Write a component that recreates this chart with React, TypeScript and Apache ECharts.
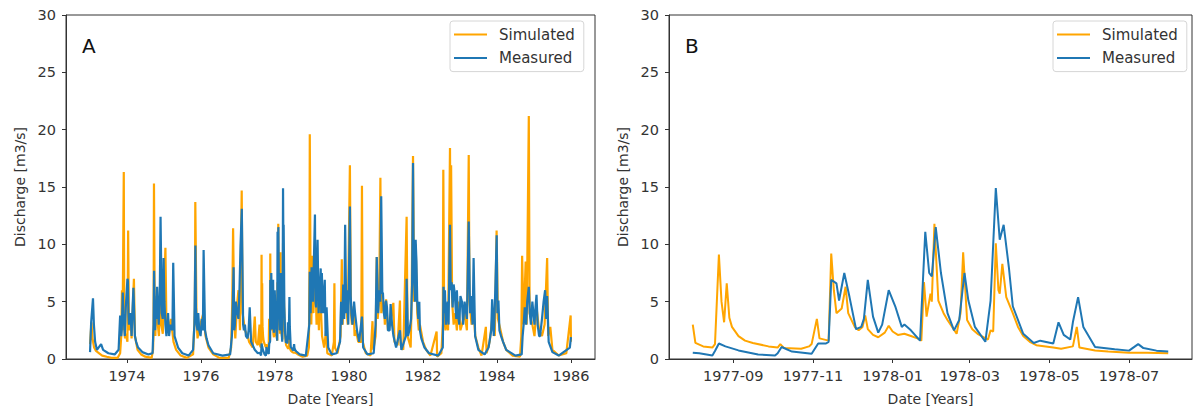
import React, { useEffect, useRef } from "react";
import * as echarts from "echarts";

// ---------- Data (date, discharge m3/s) ----------
// Panel B: detailed hydrograph Aug 1977 - Jul 1978
const simB: [string, number][] = [
  ["1977-08-01", 3.0], ["1977-08-03", 1.4], ["1977-08-09", 1.1], ["1977-08-16", 1.0], ["1977-08-18", 1.3],
  ["1977-08-21", 9.1], ["1977-08-23", 5.0], ["1977-08-25", 3.2], ["1977-08-27", 6.6], ["1977-08-29", 3.6],
  ["1977-08-31", 2.8], ["1977-09-05", 2.0], ["1977-09-10", 1.6], ["1977-09-16", 1.4], ["1977-09-28", 1.1],
  ["1977-10-05", 1.0], ["1977-10-07", 1.3], ["1977-10-10", 0.95], ["1977-10-23", 0.9], ["1977-10-29", 1.1],
  ["1977-10-31", 1.3], ["1977-11-04", 3.5], ["1977-11-06", 1.8], ["1977-11-13", 1.6], ["1977-11-15", 9.2],
  ["1977-11-17", 6.0], ["1977-11-19", 4.0], ["1977-11-23", 4.4], ["1977-11-26", 6.3], ["1977-11-28", 4.0],
  ["1977-12-03", 2.8], ["1977-12-06", 2.5], ["1977-12-09", 2.8], ["1977-12-11", 3.8], ["1977-12-13", 2.6],
  ["1977-12-17", 2.1], ["1977-12-21", 1.9], ["1977-12-26", 2.3], ["1977-12-29", 2.9], ["1978-01-01", 2.4],
  ["1978-01-05", 2.1], ["1978-01-10", 2.2], ["1978-01-15", 2.0], ["1978-01-20", 1.8], ["1978-01-23", 1.6],
  ["1978-01-25", 6.7], ["1978-01-27", 3.7], ["1978-01-30", 5.7], ["1978-01-31", 5.0], ["1978-02-02", 11.8],
  ["1978-02-05", 5.1], ["1978-02-09", 4.0], ["1978-02-12", 3.4], ["1978-02-19", 2.2], ["1978-02-22", 4.0],
  ["1978-02-24", 9.3], ["1978-02-27", 3.4], ["1978-03-03", 2.6], ["1978-03-07", 2.2], ["1978-03-15", 1.7],
  ["1978-03-17", 2.5], ["1978-03-19", 2.4], ["1978-03-21", 10.1], ["1978-03-23", 6.0], ["1978-03-24", 5.7],
  ["1978-03-26", 8.3], ["1978-03-29", 5.4], ["1978-04-03", 4.0], ["1978-04-07", 2.8], ["1978-04-11", 2.0],
  ["1978-04-16", 1.5], ["1978-04-21", 1.2], ["1978-05-04", 1.0], ["1978-05-10", 0.9], ["1978-05-19", 1.1],
  ["1978-05-22", 2.8], ["1978-05-24", 1.0], ["1978-06-05", 0.75], ["1978-06-15", 0.65], ["1978-07-01", 0.55],
  ["1978-07-15", 0.55], ["1978-07-31", 0.5],
];
const measB: [string, number][] = [
  ["1977-08-01", 0.55], ["1977-08-06", 0.5], ["1977-08-16", 0.3], ["1977-08-18", 0.7], ["1977-08-21", 1.35],
  ["1977-08-26", 1.1], ["1977-09-05", 0.75], ["1977-09-20", 0.4], ["1977-10-03", 0.3], ["1977-10-05", 0.5],
  ["1977-10-08", 1.05], ["1977-10-16", 0.65], ["1977-10-31", 0.45], ["1977-11-05", 1.35], ["1977-11-11", 1.35],
  ["1977-11-13", 1.5], ["1977-11-15", 6.9], ["1977-11-19", 6.6], ["1977-11-21", 5.1], ["1977-11-25", 7.5],
  ["1977-11-29", 5.4], ["1977-12-04", 2.6], ["1977-12-08", 2.8], ["1977-12-10", 3.5], ["1977-12-13", 6.9],
  ["1977-12-17", 3.7], ["1977-12-21", 2.3], ["1977-12-24", 3.0], ["1977-12-29", 6.0], ["1978-01-03", 4.6],
  ["1978-01-08", 2.8], ["1978-01-10", 3.0], ["1978-01-15", 2.5], ["1978-01-22", 1.6], ["1978-01-26", 11.1],
  ["1978-01-29", 7.5], ["1978-01-31", 7.2], ["1978-02-03", 11.5], ["1978-02-07", 7.5], ["1978-02-12", 4.0],
  ["1978-02-17", 2.5], ["1978-02-21", 3.4], ["1978-02-25", 7.5], ["1978-02-28", 5.1], ["1978-03-05", 2.8],
  ["1978-03-13", 1.5], ["1978-03-17", 5.1], ["1978-03-21", 14.9], ["1978-03-24", 10.4], ["1978-03-27", 11.7],
  ["1978-03-31", 8.0], ["1978-04-03", 4.6], ["1978-04-11", 2.2], ["1978-04-19", 1.4], ["1978-04-24", 1.6],
  ["1978-05-04", 1.35], ["1978-05-08", 3.2], ["1978-05-12", 2.1], ["1978-05-17", 1.7], ["1978-05-19", 3.2],
  ["1978-05-23", 5.4], ["1978-05-27", 2.8], ["1978-06-05", 1.05], ["1978-06-20", 0.85], ["1978-07-01", 0.73],
  ["1978-07-08", 1.3], ["1978-07-12", 0.95], ["1978-07-22", 0.73], ["1978-07-31", 0.65],
];

// Panel A: full record 1973-1985 (before / after the panel-B window)
const simAPre: [string, number][] = [
  ["1973-01-01", 1.3], ["1973-01-15", 3.2], ["1973-01-25", 1.8], ["1973-02-10", 1.0], ["1973-03-01", 0.7],
  ["1973-04-01", 0.5], ["1973-05-01", 0.3], ["1973-06-15", 0.2], ["1973-08-01", 0.1], ["1973-10-01", 0.1],
  ["1973-10-25", 0.5], ["1973-11-05", 2.0], ["1973-11-12", 6.0], ["1973-11-18", 2.5], ["1973-11-30", 16.3],
  ["1973-12-05", 3.0], ["1973-12-12", 1.8], ["1973-12-20", 2.2], ["1974-01-05", 1.5], ["1974-01-12", 11.2],
  ["1974-01-20", 2.5], ["1974-02-05", 3.5], ["1974-02-15", 1.8], ["1974-03-10", 7.0], ["1974-03-20", 2.0],
  ["1974-04-15", 0.8], ["1974-05-20", 0.4], ["1974-07-01", 0.2], ["1974-09-01", 0.1], ["1974-09-15", 0.8],
  ["1974-09-20", 2.5], ["1974-09-24", 15.3], ["1974-10-01", 4.0], ["1974-10-08", 2.0], ["1974-10-15", 5.5],
  ["1974-11-01", 3.0], ["1974-11-12", 2.0], ["1974-11-25", 7.0], ["1974-12-05", 3.0], ["1974-12-20", 2.2],
  ["1975-01-15", 9.7], ["1975-01-25", 3.0], ["1975-02-15", 2.5], ["1975-03-10", 3.5], ["1975-04-05", 1.5],
  ["1975-05-01", 0.8], ["1975-06-15", 0.3], ["1975-08-15", 0.1], ["1975-10-15", 0.4], ["1975-10-25", 2.5],
  ["1975-11-02", 4.4], ["1975-11-06", 13.7], ["1975-11-18", 3.5], ["1975-11-28", 1.8], ["1975-12-10", 2.5],
  ["1976-01-25", 4.0], ["1976-02-15", 2.0], ["1976-03-15", 1.0], ["1976-05-01", 0.4], ["1976-07-01", 0.1],
  ["1976-10-01", 0.1], ["1976-10-25", 1.0], ["1976-11-05", 5.0], ["1976-11-13", 11.4], ["1976-11-25", 3.0],
  ["1976-12-05", 1.8], ["1976-12-20", 4.5], ["1977-01-05", 6.0], ["1977-01-20", 2.5], ["1977-02-06", 14.7],
  ["1977-02-15", 4.0], ["1977-03-10", 2.5], ["1977-04-05", 2.0], ["1977-04-20", 1.5], ["1977-05-25", 1.0],
  ["1977-06-15", 3.7], ["1977-06-25", 1.5], ["1977-07-15", 1.2],
];
const simAPost: [string, number][] = [
  ["1978-08-15", 0.4], ["1978-10-01", 0.2], ["1978-11-15", 0.3], ["1978-12-01", 1.0], ["1978-12-07", 7.5],
  ["1978-12-10", 19.6], ["1978-12-18", 6.0], ["1978-12-25", 3.0], ["1979-01-05", 9.0], ["1979-01-15", 4.0],
  ["1979-02-01", 8.0], ["1979-02-15", 3.0], ["1979-03-01", 5.0], ["1979-03-10", 2.5], ["1979-03-20", 6.5],
  ["1979-04-10", 2.0], ["1979-05-01", 1.0], ["1979-05-20", 2.5], ["1979-06-01", 0.5], ["1979-07-15", 0.3],
  ["1979-08-05", 1.5], ["1979-08-10", 6.6], ["1979-08-15", 1.0], ["1979-09-10", 0.5], ["1979-10-10", 2.0],
  ["1979-10-22", 8.7], ["1979-10-30", 3.0], ["1979-11-05", 4.5], ["1979-11-20", 5.0], ["1979-12-10", 4.0],
  ["1979-12-20", 3.0], ["1980-01-10", 16.9], ["1980-01-20", 4.0], ["1980-01-30", 3.0], ["1980-02-15", 4.6],
  ["1980-02-25", 2.0], ["1980-03-10", 2.5], ["1980-04-01", 1.5], ["1980-05-01", 1.5], ["1980-05-08", 15.1],
  ["1980-05-15", 1.5], ["1980-06-15", 0.5], ["1980-08-01", 0.3], ["1980-08-20", 3.3], ["1980-08-28", 0.8],
  ["1980-09-20", 2.0], ["1980-10-01", 8.9], ["1980-10-10", 3.5], ["1980-10-25", 5.0], ["1980-11-06", 15.8],
  ["1980-11-15", 4.0], ["1980-12-10", 5.0], ["1980-12-20", 3.0], ["1981-01-01", 5.2], ["1981-01-20", 2.5],
  ["1981-02-10", 3.0], ["1981-03-14", 4.9], ["1981-03-25", 1.5], ["1981-04-25", 1.2], ["1981-05-18", 5.1],
  ["1981-05-25", 1.2], ["1981-06-20", 0.8], ["1981-07-23", 12.4], ["1981-08-01", 2.0], ["1981-09-01", 1.0],
  ["1981-09-10", 5.0], ["1981-09-24", 17.7], ["1981-10-05", 5.0], ["1981-10-20", 10.0], ["1981-11-05", 4.0],
  ["1981-11-20", 2.5], ["1981-12-01", 3.0], ["1982-01-01", 1.5], ["1982-02-01", 0.8], ["1982-03-15", 0.3],
  ["1982-05-15", 2.4], ["1982-05-20", 0.2], ["1982-07-01", 0.5], ["1982-07-15", 3.0], ["1982-07-20", 16.5],
  ["1982-07-28", 4.0], ["1982-08-10", 2.5], ["1982-08-20", 3.5], ["1982-09-05", 2.5], ["1982-09-24", 18.4],
  ["1982-10-01", 7.0], ["1982-10-05", 16.9], ["1982-10-15", 5.0], ["1982-10-30", 3.0], ["1982-11-15", 4.0],
  ["1982-12-01", 2.5], ["1982-12-15", 5.0], ["1983-01-05", 2.5], ["1983-01-20", 3.0], ["1983-02-15", 4.0],
  ["1983-03-10", 2.5], ["1983-03-28", 17.8], ["1983-04-05", 5.0], ["1983-04-25", 3.0], ["1983-05-15", 4.0],
  ["1983-06-01", 2.0], ["1983-07-01", 1.0], ["1983-08-01", 0.3], ["1983-09-13", 2.8], ["1983-09-20", 0.5],
  ["1983-10-20", 1.5], ["1983-11-15", 3.5], ["1983-12-10", 2.0], ["1983-12-28", 11.2], ["1984-01-10", 3.5],
  ["1984-02-05", 2.5], ["1984-03-01", 1.5], ["1984-04-01", 0.8], ["1984-06-01", 0.3], ["1984-08-15", 0.2],
  ["1984-08-28", 2.0], ["1984-09-05", 9.0], ["1984-09-20", 3.0], ["1984-10-10", 8.5], ["1984-10-20", 3.0],
  ["1984-11-10", 21.2], ["1984-11-18", 4.0], ["1984-12-15", 3.0], ["1985-01-05", 2.0], ["1985-01-25", 4.5],
  ["1985-02-20", 2.5], ["1985-03-20", 2.0], ["1985-04-15", 3.0], ["1985-05-10", 8.8], ["1985-05-20", 2.0],
  ["1985-06-10", 2.8], ["1985-07-01", 0.8], ["1985-09-01", 0.3], ["1985-11-15", 0.5], ["1985-12-28", 3.8],
  ["1985-12-31", 1.5],
];
const measAPre: [string, number][] = [
  ["1973-01-01", 0.6], ["1973-01-12", 3.2], ["1973-01-30", 5.3], ["1973-02-08", 3.0], ["1973-02-20", 1.5],
  ["1973-03-10", 0.8], ["1973-04-20", 1.3], ["1973-05-10", 0.8], ["1973-07-01", 0.5], ["1973-09-01", 0.4],
  ["1973-10-10", 0.8], ["1973-10-25", 3.8], ["1973-11-05", 2.0], ["1973-11-10", 2.5], ["1973-11-20", 5.8],
  ["1973-11-25", 4.0], ["1973-12-01", 3.4], ["1973-12-10", 2.0], ["1973-12-20", 4.5], ["1974-01-05", 7.0],
  ["1974-01-10", 6.8], ["1974-01-15", 4.0], ["1974-01-20", 3.0], ["1974-02-05", 4.0], ["1974-02-15", 2.0],
  ["1974-02-25", 4.5], ["1974-03-05", 6.2], ["1974-03-20", 2.0], ["1974-04-01", 1.5], ["1974-04-20", 1.0],
  ["1974-06-01", 0.6], ["1974-08-01", 0.4], ["1974-09-10", 0.5], ["1974-09-20", 3.0], ["1974-09-25", 7.7],
  ["1974-10-05", 2.5], ["1974-10-10", 4.0], ["1974-10-18", 3.5], ["1974-10-25", 6.3], ["1974-11-10", 3.0],
  ["1974-11-20", 5.5], ["1974-11-28", 12.4], ["1974-12-10", 4.0], ["1974-12-20", 3.5], ["1974-12-28", 8.8],
  ["1975-01-05", 5.0], ["1975-01-15", 3.0], ["1975-01-25", 2.0], ["1975-02-10", 4.0], ["1975-02-20", 2.0],
  ["1975-03-05", 3.0], ["1975-03-25", 2.5], ["1975-04-02", 8.4], ["1975-04-15", 2.0], ["1975-05-20", 1.0],
  ["1975-07-01", 0.5], ["1975-09-01", 0.3], ["1975-10-15", 0.8], ["1975-10-28", 3.0], ["1975-11-07", 9.9],
  ["1975-11-12", 4.5], ["1975-11-20", 3.0], ["1975-11-28", 2.5], ["1975-12-05", 4.0], ["1975-12-15", 2.5],
  ["1975-12-28", 2.0], ["1976-01-10", 3.5], ["1976-01-20", 2.5], ["1976-01-27", 9.5], ["1976-02-10", 2.5],
  ["1976-02-25", 1.8], ["1976-03-15", 1.2], ["1976-05-01", 0.5], ["1976-08-01", 0.3], ["1976-10-15", 0.4],
  ["1976-11-01", 2.0], ["1976-11-08", 4.0], ["1976-11-18", 8.0], ["1976-11-25", 2.5], ["1976-12-01", 3.0],
  ["1976-12-10", 5.0], ["1976-12-25", 4.0], ["1977-01-05", 3.5], ["1977-01-15", 6.0], ["1977-01-25", 9.8],
  ["1977-02-07", 13.1], ["1977-02-20", 3.0], ["1977-02-28", 2.5], ["1977-03-10", 3.0], ["1977-03-20", 2.0],
  ["1977-04-05", 1.8], ["1977-04-15", 2.5], ["1977-04-26", 4.5], ["1977-05-10", 1.5], ["1977-06-15", 0.8],
  ["1977-07-15", 0.5],
];
const measAPost: [string, number][] = [
  ["1978-09-01", 0.4], ["1978-11-01", 0.3], ["1978-12-05", 3.0], ["1978-12-10", 7.6], ["1978-12-18", 4.0],
  ["1978-12-28", 8.0], ["1979-01-10", 5.0], ["1979-01-30", 12.6], ["1979-02-05", 5.0], ["1979-02-10", 4.5],
  ["1979-02-25", 10.4], ["1979-03-07", 4.0], ["1979-03-28", 7.9], ["1979-04-02", 4.0], ["1979-04-08", 7.5],
  ["1979-04-20", 4.0], ["1979-05-07", 6.9], ["1979-05-15", 2.0], ["1979-05-25", 4.5], ["1979-06-10", 1.0],
  ["1979-07-15", 0.4], ["1979-09-01", 0.5], ["1979-10-05", 1.5], ["1979-10-15", 5.0], ["1979-10-25", 3.0],
  ["1979-11-05", 6.5], ["1979-11-15", 3.5], ["1979-11-24", 11.7], ["1979-12-05", 4.0], ["1979-12-15", 6.0],
  ["1979-12-25", 3.0], ["1980-01-10", 13.3], ["1980-01-18", 5.5], ["1980-01-25", 4.0], ["1980-02-05", 3.0],
  ["1980-02-20", 5.0], ["1980-03-01", 4.0], ["1980-03-20", 2.5], ["1980-04-10", 1.5], ["1980-05-08", 3.7],
  ["1980-05-20", 1.0], ["1980-07-01", 0.4], ["1980-09-01", 0.5], ["1980-09-20", 3.0], ["1980-10-01", 8.9],
  ["1980-10-15", 4.0], ["1980-10-22", 6.0], ["1980-11-05", 5.0], ["1980-11-14", 14.2], ["1980-11-25", 5.7],
  ["1980-12-01", 5.8], ["1980-12-10", 4.0], ["1980-12-20", 3.5], ["1981-01-01", 5.1], ["1981-01-10", 4.5],
  ["1981-01-20", 2.5], ["1981-02-05", 2.5], ["1981-02-15", 4.8], ["1981-03-01", 3.0], ["1981-03-15", 2.0],
  ["1981-04-10", 1.0], ["1981-05-18", 2.5], ["1981-06-01", 0.8], ["1981-07-15", 2.0], ["1981-07-23", 7.0],
  ["1981-08-05", 2.0], ["1981-08-20", 2.5], ["1981-09-05", 3.5], ["1981-09-15", 6.5], ["1981-09-24", 17.1],
  ["1981-10-01", 8.0], ["1981-10-10", 6.0], ["1981-10-15", 5.0], ["1981-10-20", 10.4], ["1981-10-28", 8.5],
  ["1981-11-05", 5.0], ["1981-11-15", 3.5], ["1981-11-25", 5.0], ["1981-12-01", 2.5], ["1981-12-15", 1.8],
  ["1982-01-15", 1.0], ["1982-03-01", 0.5], ["1982-06-01", 0.3], ["1982-07-15", 1.0], ["1982-07-22", 6.3],
  ["1982-07-30", 4.0], ["1982-08-05", 6.0], ["1982-08-15", 3.0], ["1982-09-01", 5.0], ["1982-09-10", 3.0],
  ["1982-09-24", 11.7], ["1982-10-01", 6.0], ["1982-10-10", 6.7], ["1982-10-20", 4.5], ["1982-10-30", 6.5],
  ["1982-11-10", 5.7], ["1982-11-25", 3.5], ["1982-12-01", 6.0], ["1982-12-10", 4.0], ["1982-12-25", 3.0],
  ["1983-01-05", 5.5], ["1983-01-20", 5.0], ["1983-02-01", 3.0], ["1983-02-15", 5.0], ["1983-03-10", 3.5],
  ["1983-03-28", 12.0], ["1983-04-10", 4.0], ["1983-04-20", 5.5], ["1983-05-05", 3.0], ["1983-05-15", 8.8],
  ["1983-05-30", 2.0], ["1983-07-01", 0.8], ["1983-09-01", 0.4], ["1983-10-10", 1.0], ["1983-11-05", 2.5],
  ["1983-11-14", 5.2], ["1983-11-30", 2.0], ["1983-12-05", 3.0], ["1983-12-15", 6.0], ["1983-12-29", 10.8],
  ["1984-01-05", 4.0], ["1984-01-15", 5.1], ["1984-01-25", 2.5], ["1984-02-10", 2.0], ["1984-03-01", 1.5],
  ["1984-04-01", 0.8], ["1984-07-01", 0.3], ["1984-09-01", 0.4], ["1984-09-10", 2.0], ["1984-09-20", 3.0],
  ["1984-10-01", 4.5], ["1984-10-15", 3.0], ["1984-10-25", 5.0], ["1984-11-10", 6.3], ["1984-11-20", 4.0],
  ["1984-12-01", 3.0], ["1984-12-15", 5.0], ["1985-01-05", 3.0], ["1985-01-15", 4.5], ["1985-01-25", 5.6],
  ["1985-02-05", 3.0], ["1985-02-20", 2.0], ["1985-03-01", 2.0], ["1985-03-20", 3.5], ["1985-04-05", 5.0],
  ["1985-04-20", 6.0], ["1985-05-01", 3.5], ["1985-05-10", 5.5], ["1985-05-25", 1.5], ["1985-07-01", 0.6],
  ["1985-09-01", 0.3], ["1985-12-20", 1.0], ["1985-12-31", 1.9],
];

const yearTicksA = ["1974-01-01", "1976-01-01", "1978-01-01", "1980-01-01", "1982-01-01", "1984-01-01", "1986-01-01"];
const monthTicksB = ["1977-09-01", "1977-11-01", "1978-01-01", "1978-03-01", "1978-05-01", "1978-07-01"];
const seriesNames = ["Simulated", "Measured"];
const yTitle = "Discharge [m3/s]";
const xTitle = "Date [Years]";
const panelLabels = ["A", "B"];

// ---------- helpers ----------
const ts = (s: string) => {
  const [y, m, d] = s.split("-").map(Number);
  return Date.UTC(y, m - 1, d);
};
const toPts = (arr: [string, number][]) =>
  arr.map(([d, v]) => [ts(d), v]).sort((a, b) => a[0] - b[0]);
const padRange = (a: string, b: string) => {
  const t0 = ts(a), t1 = ts(b);
  const p = (t1 - t0) * 0.05;
  return [t0 - p, t1 + p];
};

const ORANGE = "#FFA500";
const BLUE = "#1f77b4";
const AX = "#333333";
const FONT = "DejaVu Sans";

export default function App() {
  const ref = useRef<HTMLDivElement>(null);
  useEffect(() => {
    if (!ref.current) return;
    const chart = echarts.init(ref.current, undefined, { renderer: "svg" });
    const [aMin, aMax] = padRange("1973-01-01", "1985-12-31");
    const [bMin, bMax] = padRange(simB[0][0], simB[simB.length - 1][0]);

    const grids = [
      { left: 66, top: 15, width: 529, height: 344 },
      { left: 669, top: 15, width: 523, height: 344 },
    ];
    const yAxis = grids.map((_, i) => ({
      type: "value",
      gridIndex: i,
      min: 0,
      max: 30,
      interval: 5,
      name: yTitle,
      nameLocation: "middle",
      nameGap: 39,
      nameTextStyle: { fontFamily: FONT, fontSize: 14, color: AX },
      axisLine: { show: true, lineStyle: { color: AX, width: 1 } },
      axisTick: { show: true, inside: false, length: 4, lineStyle: { color: AX } },
      axisLabel: { fontFamily: FONT, fontSize: 14.5, color: AX, margin: 10 },
      splitLine: { show: false },
    }));
    const mkX = (i: number, min: number, max: number, ticks: string[], fmt: (v: number) => string) => ({
      type: "value",
      gridIndex: i,
      min,
      max,
      scale: true,
      name: xTitle,
      nameLocation: "middle",
      nameGap: 33,
      nameTextStyle: { fontFamily: FONT, fontSize: 14, color: AX },
      axisLine: { show: true, onZero: false, lineStyle: { color: AX, width: 1 } },
      axisTick: { show: true, inside: false, length: 4, lineStyle: { color: AX }, customValues: ticks.map(ts) },
      axisLabel: {
        fontFamily: FONT, fontSize: 14.5, color: AX, margin: 9,
        customValues: ticks.map(ts),
        formatter: (v: number) => fmt(v),
        showMinLabel: true,
        showMaxLabel: true,
        hideOverlap: false,
      },
      splitLine: { show: false },
    });
    const xAxis = [
      mkX(0, aMin, aMax, yearTicksA, (v) => String(new Date(v).getUTCFullYear())),
      mkX(1, bMin, bMax, monthTicksB, (v) => {
        const d = new Date(v);
        return `${d.getUTCFullYear()}-${String(d.getUTCMonth() + 1).padStart(2, "0")}`;
      }),
    ];
    const line = (name: string, color: string, data: number[][], idx: number, width: number) => ({
      type: "line",
      name,
      xAxisIndex: idx,
      yAxisIndex: idx,
      data,
      showSymbol: false,
      symbol: "none",
      lineStyle: { color, width },
      itemStyle: { color },
      z: name === "Measured" ? 3 : 2,
    });
    const series = [
      line(seriesNames[0], ORANGE, toPts([...simAPre, ...simB, ...simAPost]), 0, 2.2),
      line(seriesNames[1], BLUE, toPts([...measAPre, ...measB, ...measAPost]), 0, 2.2),
      line(seriesNames[0], ORANGE, toPts(simB), 1, 2),
      line(seriesNames[1], BLUE, toPts(measB), 1, 2),
    ];
    const legend = (left: number) => ({
      left,
      top: 21,
      orient: "vertical",
      data: seriesNames.map((n) => ({ name: n, icon: "rect" })),
      itemWidth: 33,
      itemHeight: 2,
      itemGap: 8.6,
      padding: [6, 9, 6, 4],
      borderColor: "#d6d6d6",
      borderWidth: 1,
      borderRadius: 3,
      backgroundColor: "#fff",
      selectedMode: false,
      textStyle: { fontFamily: FONT, fontSize: 15, color: AX, lineHeight: 15, padding: [0, 0, 0, 7] },
    });
    const labels = panelLabels.map((t, i) => ({
      type: "text",
      left: grids[i].left + 16,
      top: 36,
      style: { text: t, fontFamily: FONT, fontSize: 20, fill: "#111" },
    }));

    chart.setOption({
      animation: false,
      backgroundColor: "#fff",
      grid: grids.map((g) => ({ ...g, show: true, borderColor: AX, borderWidth: 1, backgroundColor: "transparent" })),
      xAxis,
      yAxis,
      series,
      legend: [legend(450), legend(1053)],
      graphic: labels,
    });
    return () => chart.dispose();
  }, []);
  return (
    <div
      ref={ref}
      style={{ position: "fixed", left: 0, top: 0, width: 1198, height: 412, background: "#fff" }}
    />
  );
}
